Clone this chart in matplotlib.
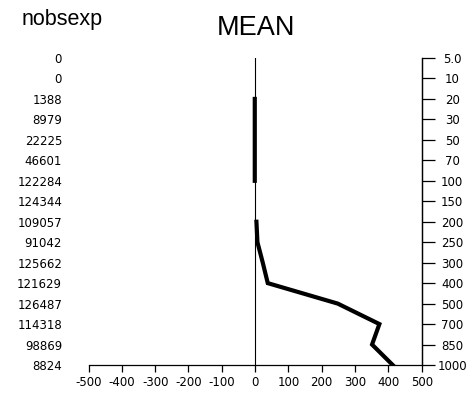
import numpy as np
import matplotlib
matplotlib.use("Agg")
import matplotlib.pyplot as plt

levels = ["5.0", "10", "20", "30", "50", "70", "100", "150", "200", "250",
          "300", "400", "500", "700", "850", "1000"]
nobsexp = ["0", "0", "1388", "8979", "22225", "46601", "122284", "124344",
           "109057", "91042", "125662", "121629", "126487", "114318", "98869", "8824"]
mean_vals = [np.nan, np.nan, -1, -1, -1, -1, -1, np.nan, 4, 7, 23, 38, 248, 373, 351, 413]
xticks = [-500, -400, -300, -200, -100, 0, 100, 200, 300, 400, 500]

W, H = 473, 393
fig = plt.figure(figsize=(W / 100, H / 100), dpi=100)
left, right, top, bottom = 88.5, 421.7, 58, 365
ax = fig.add_axes([left / W, 1 - bottom / H, (right - left) / W, (bottom - top) / H])

pos = np.arange(len(levels))
ax.plot(mean_vals, pos, color="black", lw=3.0, solid_joinstyle="miter")
ax.axvline(0, color="black", lw=0.8)

ax.set_xlim(-500, 500)
ax.set_ylim(len(levels) - 1, 0)

for s in ["left", "top"]:
    ax.spines[s].set_visible(False)
for s in ["bottom", "right"]:
    ax.spines[s].set_linewidth(0.9)

ax.set_xticks(xticks)
ax.set_xticklabels([str(v) for v in xticks], fontsize=8.5, family="DejaVu Sans")
ax.tick_params(axis="x", direction="out", length=5, width=0.9, pad=3)

ax.set_yticks(pos)
ax.set_yticklabels(nobsexp, fontsize=8.5, family="DejaVu Sans")
ax.tick_params(axis="y", left=False, right=False, pad=19, length=0)

ax2 = ax.twinx()
ax2.set_ylim(len(levels) - 1, 0)
for s in ["left", "top", "bottom"]:
    ax2.spines[s].set_visible(False)
ax2.spines["right"].set_linewidth(0.9)
ax2.set_yticks(pos)
ax2.set_yticklabels(levels, fontsize=8.5, family="DejaVu Sans", ha="center")
ax2.tick_params(axis="y", direction="out", length=9, width=0.9, pad=13)

fig.text(255.5 / W, 1 - 35 / H, "MEAN", ha="center", va="baseline",
         fontsize=19.5, family="Liberation Sans")
fig.text(22 / W, 1 - 25 / H, "nobsexp", ha="left", va="baseline",
         fontsize=15.5, family="Liberation Sans")

fig.savefig("out.png", dpi=100)
